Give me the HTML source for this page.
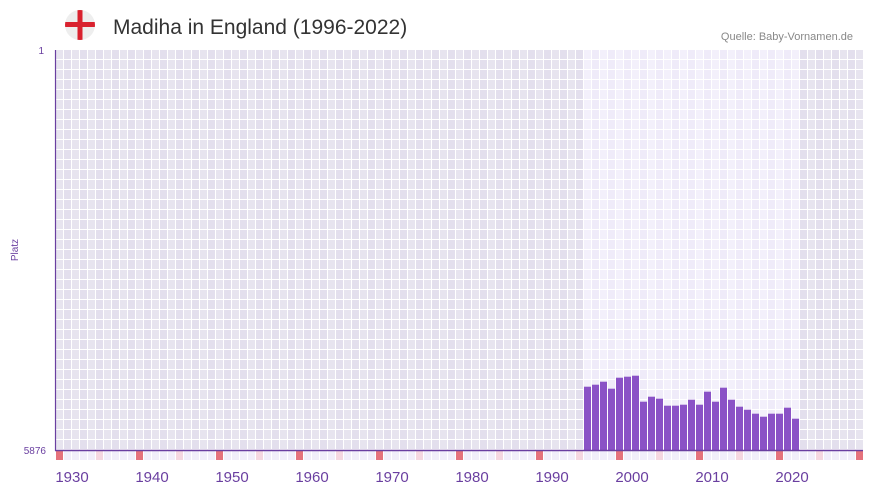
<!DOCTYPE html>
<html><head><meta charset="utf-8"><style>
body{margin:0;background:#fff;width:873px;height:492px;overflow:hidden;font-family:"Liberation Sans",sans-serif}
</style></head><body>
<svg id="s" width="873" height="492" xmlns="http://www.w3.org/2000/svg">
<defs><clipPath id="cp"><circle cx="80" cy="25" r="15"/></clipPath></defs>
<circle cx="80" cy="25" r="15" fill="#eeeeee"/>
<g clip-path="url(#cp)">
<rect x="65" y="22" width="30" height="5" fill="#d9222f"/>
<rect x="77.5" y="10" width="5" height="30" fill="#d9222f"/>
</g>
<text x="113" y="34" font-size="21" fill="#333">Madiha in England (1996-2022)</text>
<text x="853" y="40" font-size="11" fill="#888" text-anchor="end">Quelle: Baby-Vornamen.de</text>
<text x="44" y="54" font-size="10" fill="#6a3fa0" text-anchor="end">1</text>
<text x="46" y="454" font-size="10" fill="#6a3fa0" text-anchor="end">5876</text>
<text x="18" y="250" font-size="10" fill="#6a3fa0" text-anchor="middle" transform="rotate(-90 18 250)">Platz</text>
<g id="g"></g>
<line x1="55.5" y1="50" x2="55.5" y2="451" stroke="#6a3fa0" stroke-width="1.2"/>
<line x1="55" y1="450.5" x2="863" y2="450.5" stroke="#6a3fa0" stroke-width="1.5"/>
</svg>
<script>
var g=document.getElementById('g'),h='';
for(var k=0;k<101;k++){var x=56+8*k;var light=(x>=583&&x<799);
 var c=light?(k%2?'#efebf9':'#f3f0fb'):(k%2?'#e3dfed':'#e7e4ef');
 for(var y=50;y<450;y+=10)h+='<rect x="'+x+'" y="'+y+'" width="7" height="9" fill="'+c+'"/>';
 var yr=k%10, sc='#f1eefa';if(yr==0)sc='#e5727c';else if(yr==5)sc='#f5d7e0';
 h+='<rect x="'+x+'" y="451" width="7" height="9" fill="'+sc+'"/>';
}
var t=[386.7,384.7,381.7,388.7,377.7,376.7,375.7,401.7,396.7,398.7,405.7,405.7,404.7,399.7,404.7,391.7,401.7,387.7,399.7,406.7,409.7,413.7,416.7,413.7,413.7,407.7,418.7];
for(var i=0;i<t.length;i++)h+='<rect x="'+(584+8*i)+'" y="'+t[i]+'" width="7" height="'+(450-t[i])+'" fill="#8a52c6"/>';
for(var j=0;j<10;j++){h+='<text x="'+(72+80*j)+'" y="482" font-size="15" fill="#6a3fa0" text-anchor="middle">'+(1930+10*j)+'</text>';}
g.innerHTML=h;
</script>
</body></html>
